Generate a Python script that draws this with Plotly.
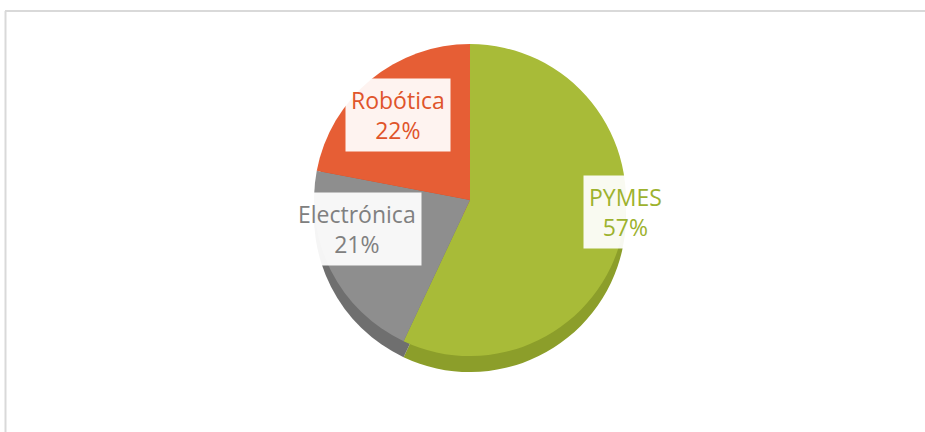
import plotly.graph_objects as go

categories = ["PYMES", "Electrónica", "Robótica"]
values = [57, 21, 22]
colors = ["#A8BB38", "#8E8E8E", "#E65E35"]
side_colors = ["#8C9E2A", "#6F6F6F", "#C44B28"]
text_colors = ["#9DB22E", "#808080", "#E0542B"]

W, H = 925, 432

def px_dom(cx, cy, d):
    return dict(x=[(cx - d / 2) / W, (cx + d / 2) / W],
                y=[1 - (cy + d / 2) / H, 1 - (cy - d / 2) / H])

fig = go.Figure()
# depth layer (pseudo 3D)
fig.add_trace(go.Pie(labels=categories, values=values, sort=False,
                     direction="clockwise", rotation=0,
                     marker=dict(colors=side_colors, line=dict(width=0)),
                     textinfo="none", hoverinfo="skip", showlegend=False,
                     domain=px_dom(470, 216, 312)))
# top face
fig.add_trace(go.Pie(labels=categories, values=values, sort=False,
                     direction="clockwise", rotation=0,
                     marker=dict(colors=colors, line=dict(width=0)),
                     textinfo="none", showlegend=False,
                     domain=px_dom(470, 200, 312)))

label_pos = [(625, 212), (357, 229), (398, 115)]
total = sum(values)
for cat, v, tc, (x, y) in zip(categories, values, text_colors, label_pos):
    fig.add_annotation(x=x / W, y=1 - y / H, xref="paper", yref="paper",
                       text=f"{cat}<br>{round(100 * v / total)}%",
                       showarrow=False, align="center",
                       font=dict(family="Open Sans", size=23, color=tc),
                       bgcolor="rgba(255,255,255,0.93)",
                       borderpad=5, xanchor="center", yanchor="middle")

fig.add_shape(type="line", xref="paper", yref="paper",
              x0=5 / W, x1=1.0, y0=1 - 11 / H, y1=1 - 11 / H,
              line=dict(color="#D9D9D9", width=2))
fig.add_shape(type="line", xref="paper", yref="paper",
              x0=5.5 / W, x1=5.5 / W, y0=1 - 11 / H, y1=0,
              line=dict(color="#D9D9D9", width=2))

fig.update_layout(width=W, height=H, margin=dict(l=0, r=0, t=0, b=0),
                  paper_bgcolor="white", plot_bgcolor="white")
fig.write_html("out.html", config={"displayModeBar": False},
               post_script="document.body.style.margin='0';document.body.style.padding='0';")
